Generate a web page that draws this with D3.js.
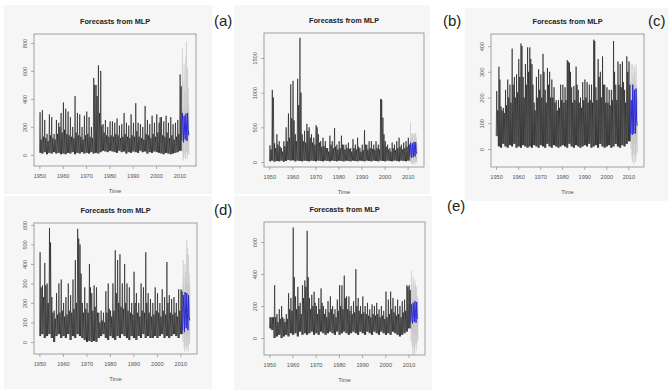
<!DOCTYPE html>
<html><head><meta charset="utf-8">
<script src="https://cdn.jsdelivr.net/npm/d3@7/dist/d3.min.js"></script>
<style>
html,body{margin:0;padding:0;background:#fff;}
svg{display:block;font-family:"Liberation Sans",Arial,sans-serif;}
</style></head><body>
<svg id="c" width="670" height="391"></svg>
<script>
// ---------- data ----------
const years = [1950,1951,1952,1953,1954,1955,1956,1957,1958,1959,1960,1961,1962,1963,1964,1965,1966,1967,1968,1969,1970,1971,1972,1973,1974,1975,1976,1977,1978,1979,1980,1981,1982,1983,1984,1985,1986,1987,1988,1989,1990,1991,1992,1993,1994,1995,1996,1997,1998,1999,2000,2001,2002,2003,2004,2005,2006,2007,2008,2009,2010];
const xTickLabels = [1950,1960,1970,1980,1990,2000,2010];
const fcTimes = [2011,2011.25,2011.5,2011.75,2012,2012.25,2012.5,2012.75,2013,2013.25,2013.5,2013.75,2014];
const panelLabels = ["(a)","(b)","(c)","(d)","(e)"];
const titleText = "Forecasts from MLP";
const xAxisTitle = "Time";

// panel (a)
const aHigh = [305,320,250,150,290,270,150,250,230,300, 375,330,310,270,200,420,300,290,200,280, 310,270,200,550,500,640,600,220,250,200, 240,240,230,260,210,220,300,230,210,290, 230,370,230,220,200,350,250,220,280,230, 290,230,270,240,280,230,270,220,230,250,575];
const aCore = [110,130,120,100,140,120,110,150,200,160, 180,150,140,130,120,160,140,130,110,140, 150,130,120,500,420,300,210,160,140,130, 140,130,150,140,120,130,150,130,120,140, 130,170,130,120,110,150,140,120,150,130, 160,270,140,130,160,120,140,110,130,150,490];
const aLow  = [15,10,20,5,15,10,20,10,15,5, 10,5,15,10,20,5,15,10,20,10, 15,10,20,10,15,10,20,30,25,20, 30,25,20,15,30,20,25,10,20,15, 25,20,15,30,20,25,10,20,15,25, 20,15,10,5,15,10,5,10,15,20,30];
const aFcMean  = [100,300,210,90,280,170,110,295,200,100,300,180,140];
const aFcUpper = [300,760,520,320,650,460,330,700,810,420,620,480,360];
const aFcLower = [20,110,-40,-20,90,0,-30,70,20,-30,80,10,0];
const aYTicks = [0,200,400,600,800];

// panel (b)
const bHigh = [240,1040,270,400,300,200,300,500,700,1120, 1170,400,1200,1790,400,450,550,500,400,350, 530,400,300,350,300,200,380,300,490,250, 300,380,250,250,280,200,330,250,350,200, 250,460,250,300,300,250,300,250,910,640, 300,250,200,280,250,300,350,250,280,300,350];
const bCore = [180,930,200,250,220,150,230,300,350,630, 600,300,820,1000,300,280,450,350,280,250, 500,280,220,230,200,150,250,200,220,180, 200,250,180,200,190,150,200,180,220,150, 170,250,180,200,190,180,200,180,900,400, 220,180,150,200,170,200,220,180,200,220,250];
const bLow  = [10,20,5,15,10,20,5,15,30,20, 25,10,20,15,10,20,15,10,20,15, 10,20,15,10,20,15,10,20,15,10, 20,15,10,20,15,10,20,15,10,20, 15,10,20,15,10,20,15,10,20,15, 10,20,15,10,20,15,10,20,15,10,20];
const bFcMean  = [80,280,170,60,270,160,70,290,180,80,285,150,120];
const bFcUpper = [200,570,400,250,420,380,220,400,410,250,420,350,260];
const bFcLower = [0,60,-20,-30,50,-10,-40,60,0,-30,50,-10,0];
const bYTicks = [0,500,1000,1500];

// panel (c)
const cHigh = [225,320,165,160,230,270,250,390,280,290, 350,410,280,330,395,395,330,180,280,310, 290,370,230,315,300,270,240,190,190,250, 250,240,345,335,240,245,320,230,200,260, 270,260,250,250,425,240,350,300,360,250, 240,230,230,420,250,340,330,340,230,360,340];
const cCore = [150,270,150,140,170,200,180,250,200,220, 280,400,200,250,300,350,250,150,200,230, 200,300,180,250,200,200,180,150,160,190, 180,190,340,300,180,190,250,180,160,190, 200,180,190,180,420,190,280,200,250,180, 180,170,190,300,190,250,240,260,180,300,250];
const cLow  = [50,10,5,20,10,5,15,10,20,5, 10,5,15,10,5,10,5,15,10,5, 15,10,5,20,10,5,15,10,5,10, 15,10,5,20,10,5,15,10,5,10, 15,10,20,5,10,15,5,20,10,5, 10,15,5,10,20,10,5,15,10,20,30];
const cFcMean  = [60,190,120,55,250,150,60,230,130,60,235,110,90];
const cFcUpper = [200,330,260,180,330,280,190,320,300,200,330,250,200];
const cFcLower = [0,40,-30,-50,30,-20,-60,20,-30,-50,20,-20,-10];
const cYTicks = [0,100,200,300,400];

// panel (d)
const dHigh = [460,290,405,300,585,230,160,250,300,320, 200,230,300,240,320,420,580,500,200,280, 200,400,250,290,280,150,160,150,260,300, 160,300,470,420,450,300,400,300,280,200, 360,250,200,300,280,460,250,220,200,280, 250,200,270,230,410,240,220,230,200,270,270];
const dCore = [280,230,290,200,510,150,120,140,150,160, 130,140,160,150,170,200,530,350,150,170, 150,280,160,180,150,100,110,100,150,170, 130,160,250,200,180,170,200,160,150,140, 200,150,130,160,150,200,150,130,140,160, 150,130,160,140,200,150,140,150,130,160,260];
const dLow  = [30,40,20,30,40,20,0,30,40,20, 30,20,40,10,30,20,40,30,20,10, 0,5,0,5,0,20,30,40,20,10, 30,20,10,30,20,40,30,20,10,30, 20,10,30,20,40,20,30,20,20,30, 20,30,40,20,30,20,30,40,30,20,40];
const dFcMean  = [60,240,150,50,255,140,70,250,150,60,240,130,110];
const dFcUpper = [300,420,330,250,400,360,300,520,480,300,450,350,300];
const dFcLower = [0,40,-30,-50,40,-20,-40,30,-20,-50,30,-10,0];
const dYTicks = [0,100,200,300,400,500,600];

// panel (e)
const eHigh = [130,130,330,150,180,200,120,150,280,250, 690,260,320,220,330,360,670,250,270,290, 200,250,310,200,180,230,260,200,180,240, 330,330,390,260,260,200,230,430,250,200, 260,200,220,180,210,200,220,180,200,170, 290,240,290,250,200,240,200,230,240,330,330];
const eCore = [130,130,130,100,120,130,100,120,180,170, 380,180,200,150,250,320,380,180,200,220, 150,180,220,150,130,160,180,150,130,170, 200,180,250,180,170,150,160,200,170,150, 160,150,140,130,150,140,150,130,140,120, 130,150,180,160,140,150,130,160,170,320,300];
const eLow  = [60,50,0,10,20,0,10,20,10,30, 20,30,10,40,20,30,20,30,40,20, 30,20,40,30,20,30,40,30,20,40, 20,30,40,30,20,30,40,30,20,40, 30,20,40,30,20,40,30,20,40,30, 20,30,20,40,30,20,10,20,30,40,60];
const eFcMean  = [100,210,150,90,220,140,100,230,160,95,225,130,120];
const eFcUpper = [250,420,330,240,380,300,240,360,330,230,320,260,230];
const eFcLower = [-20,40,-50,-110,30,-60,-100,20,-40,-80,20,-30,-10];
const eYTicks = [0,200,400,600];

// ---------- layout ----------
const panels = [
  {hi:aHigh, core:aCore, lo:aLow, fm:aFcMean, fu:aFcUpper, fl:aFcLower, yt:aYTicks, yd:[-79,864],
   bg:[4,5,208,189], box:[34,34,162,132], lab:[214,26]},
  {hi:bHigh, core:bCore, lo:bLow, fm:bFcMean, fu:bFcUpper, fl:bFcLower, yt:bYTicks, yd:[-72,1860],
   bg:[234,5,196,189], box:[264,33,160,134], lab:[443,26]},
  {hi:cHigh, core:cCore, lo:cLow, fm:cFcMean, fu:cFcUpper, fl:cFcLower, yt:cYTicks, yd:[-70,447],
   bg:[465,8,203,193], box:[491,34,153,133], lab:[648,26]},
  {hi:dHigh, core:dCore, lo:dLow, fm:dFcMean, fu:dFcUpper, fl:dFcLower, yt:dYTicks, yd:[-62,610],
   bg:[4,196,208,193], box:[34,223,163,131], lab:[214,215]},
  {hi:eHigh, core:eCore, lo:eLow, fm:eFcMean, fu:eFcUpper, fl:eFcLower, yt:eYTicks, yd:[-106,725],
   bg:[234,196,198,194], box:[264,222,161,133], lab:[447,211]}
];
const xDomain = [1947.7, 2017.1];

const svg = d3.select("#c");

panels.forEach((p, i) => {
  const [bx, by, bw, bh] = p.box;
  svg.append("rect").attr("x", p.bg[0]).attr("y", p.bg[1]).attr("width", p.bg[2]).attr("height", p.bg[3])
     .attr("fill", "#f6f6f6");
  const g = svg.append("g").attr("transform", `translate(${bx},${by})`);
  const x = d3.scaleLinear().domain(xDomain).range([0, bw]);
  const y = d3.scaleLinear().domain(p.yd).range([bh, 0]);

  const clip = "clip" + i;
  g.append("clipPath").attr("id", clip).append("rect").attr("width", bw).attr("height", bh);
  const plot = g.append("g").attr("clip-path", `url(#${clip})`);

  // forecast ensemble spread (grey)
  const fc = fcTimes.map((t, k) => ({t, m: p.fm[k], u: p.fu[k], l: p.fl[k]}));
  plot.append("path").datum(fc)
    .attr("d", d3.area().x(d => x(d.t)).y0(d => y(d.l)).y1(d => y(d.u)))
    .attr("fill", "#e3e3e3").attr("opacity", 0.75);
  const spread = [];
  fc.forEach((d, k) => { spread.push({t: d.t, v: d.u}); spread.push({t: d.t + 0.125, v: d.l}); });
  plot.append("path").datum(spread)
    .attr("d", d3.line().x(d => x(d.t)).y(d => y(d.v)))
    .attr("fill", "none").attr("stroke", "#c4c4c4").attr("stroke-width", 0.45);

  // observed series
  const pts = [];
  years.forEach((yr, k) => {
    pts.push({t: yr + 0.05, v: p.lo[k]});
    pts.push({t: yr + 0.3, v: p.hi[k]});
    pts.push({t: yr + 0.5, v: p.lo[k]});
    pts.push({t: yr + 0.75, v: p.core[k]});
  });
  pts.push({t: 2010.95, v: p.lo[p.lo.length - 1]});
  plot.append("path").datum(pts)
    .attr("d", d3.line().x(d => x(d.t)).y(d => y(d.v)))
    .attr("fill", "none").attr("stroke", "#000").attr("stroke-width", 0.55)
    .attr("stroke-linejoin", "round");

  // forecast mean (blue)
  plot.append("path").datum(fc)
    .attr("d", d3.line().x(d => x(d.t)).y(d => y(d.m)))
    .attr("fill", "none").attr("stroke", "#2a2ad6").attr("stroke-width", 1);

  // box
  g.append("rect").attr("width", bw).attr("height", bh).attr("fill", "none")
   .attr("stroke", "#8c8c8c").attr("stroke-width", 0.8);

  // axes
  const xa = g.append("g").attr("transform", `translate(0,${bh})`)
    .call(d3.axisBottom(x).tickValues(xTickLabels).tickFormat(d3.format("d")).tickSize(3).tickPadding(5));
  const ya = g.append("g")
    .call(d3.axisLeft(y).tickValues(p.yt).tickFormat(d3.format("d")).tickSize(3));
  [xa, ya].forEach(a => {
    a.select(".domain").remove();
    a.selectAll("line").attr("stroke", "#8c8c8c").attr("stroke-width", 0.7);
    a.selectAll("text").attr("fill", "#555").attr("font-size", 5.6).attr("font-family", "Liberation Sans, Arial, sans-serif");
  });
  ya.selectAll("text").attr("transform", "rotate(-90)").attr("x", 0).attr("y", -7.5)
    .attr("dy", 0).attr("text-anchor", "middle");

  // titles
  svg.append("text").attr("x", bx + bw / 2).attr("y", by - 10.5).attr("text-anchor", "middle")
     .attr("font-size", 7.3).attr("font-weight", "bold").attr("fill", "#222").text(titleText);
  svg.append("text").attr("x", bx + bw / 2).attr("y", by + bh + 27).attr("text-anchor", "middle")
     .attr("font-size", 5.8).attr("fill", "#555").text(xAxisTitle);

  // panel letter
  svg.append("text").attr("x", p.lab[0]).attr("y", p.lab[1]).attr("font-size", 15)
     .attr("fill", "#222").text(panelLabels[i]);
});
</script>
</body></html>
